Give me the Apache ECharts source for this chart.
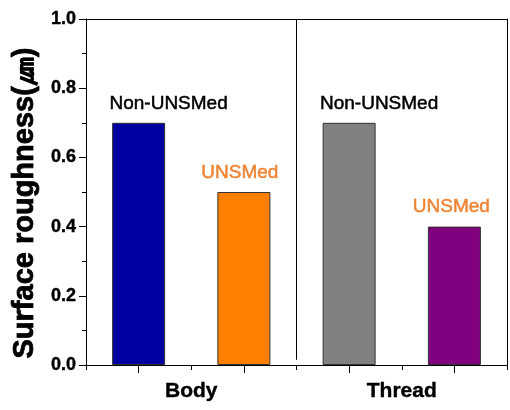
<!DOCTYPE html>
<html><head><meta charset="utf-8">
<script src="https://cdn.jsdelivr.net/npm/echarts@6/dist/echarts.min.js"></script>
<style>html,body{margin:0;padding:0;background:#fff}#c{width:510px;height:410px}</style>
</head><body><div id="c"></div>
<script>
const groups = ['Body', 'Thread'];
const groupPos = [1, 3];
const barPos = [0.5, 1.5, 2.5, 3.5];
const barValues = [0.7, 0.5, 0.7, 0.4];
const barLabels = ['Non-UNSMed', 'UNSMed', 'Non-UNSMed', 'UNSMed'];
const barColors = ['#0000a0', '#ff8000', '#808080', '#800080'];
const labelColors = ['#000000', '#ef8535', '#000000', '#ef8535'];
const labelOffsets = [[30, 0], [-4, 0], [30, 0], [-3, 0]];
const yTicks = [0, 0.2, 0.4, 0.6, 0.8, 1.0];
const dividerX = 2;

const chart = echarts.init(document.getElementById('c'));
const data = barPos.map((x, i) => ({
  value: [x, barValues[i]],
  itemStyle: { color: barColors[i], borderColor: '#333', borderWidth: 1 },
  label: {
    show: true, position: 'top', distance: 10, formatter: barLabels[i],
    color: labelColors[i], offset: labelOffsets[i],
    textBorderColor: labelColors[i], textBorderWidth: 0.5,
    fontFamily: '"Liberation Sans", Arial, sans-serif',
    fontSize: 19
  }
}));
chart.setOption({
  animation: false,
  grid: { left: 86, right: 2, top: 19, bottom: 45, containLabel: false },
  xAxis: [{
    type: 'value', min: 0, max: 4, interval: 1,
    axisLine: { show: true, lineStyle: { color: '#000', width: 1 } },
    axisTick: { show: true, inside: false, length: 5, lineStyle: { color: '#000' } },
    minorTick: { show: true, splitNumber: 2, length: 8, lineStyle: { color: '#000' } },
    splitLine: { show: false },
    axisLabel: {
      margin: 16, color: '#000', fontWeight: 'bold', fontSize: 21,
      textBorderColor: '#000', textBorderWidth: 0.4,
      fontFamily: '"Liberation Sans", Arial, sans-serif',
      formatter: v => { const k = groupPos.indexOf(v); return k >= 0 ? groups[k] : ''; }
    }
  }, {
    type: 'value', min: 0, max: 4, position: 'top',
    axisLine: { show: true, onZero: false, lineStyle: { color: '#000' } },
    axisTick: { show: false }, axisLabel: { show: false }, splitLine: { show: false }
  }],
  yAxis: [{
    type: 'value', min: yTicks[0], max: yTicks[yTicks.length - 1], interval: 0.2,
    name: 'Surface roughness(㎛)', nameLocation: 'middle', nameGap: 44,
    nameTextStyle: { color: '#000', fontWeight: 'bold', fontSize: 29,
      textBorderColor: '#000', textBorderWidth: 0.8,
      padding: [0, 22, 0, 0],
      fontFamily: '"Liberation Sans", Arial, sans-serif' },
    axisLine: { show: true, lineStyle: { color: '#000' } },
    axisTick: { show: true, inside: false, length: 7, lineStyle: { color: '#000' } },
    minorTick: { show: true, splitNumber: 2, length: 4, lineStyle: { color: '#000' } },
    splitLine: { show: false },
    axisLabel: { color: '#000', fontWeight: 'bold', fontSize: 18, margin: 10,
      textBorderColor: '#000', textBorderWidth: 0.4,
      fontFamily: '"Liberation Sans", Arial, sans-serif',
      formatter: v => v.toFixed(1) }
  }, {
    type: 'value', min: 0, max: 1, position: 'right',
    axisLine: { show: true, onZero: false, lineStyle: { color: '#000' } },
    axisTick: { show: false }, axisLabel: { show: false }, splitLine: { show: false }
  }],
  series: [{
    type: 'bar', data: data, barWidth: 53,
    markLine: {
      silent: true, symbol: ['none', 'none'], label: { show: false },
      lineStyle: { color: '#000', type: 'solid', width: 1 },
      data: [[{ coord: [dividerX, 1] }, { coord: [dividerX, 0.015] }]]
    }
  }]
});
</script></body></html>
